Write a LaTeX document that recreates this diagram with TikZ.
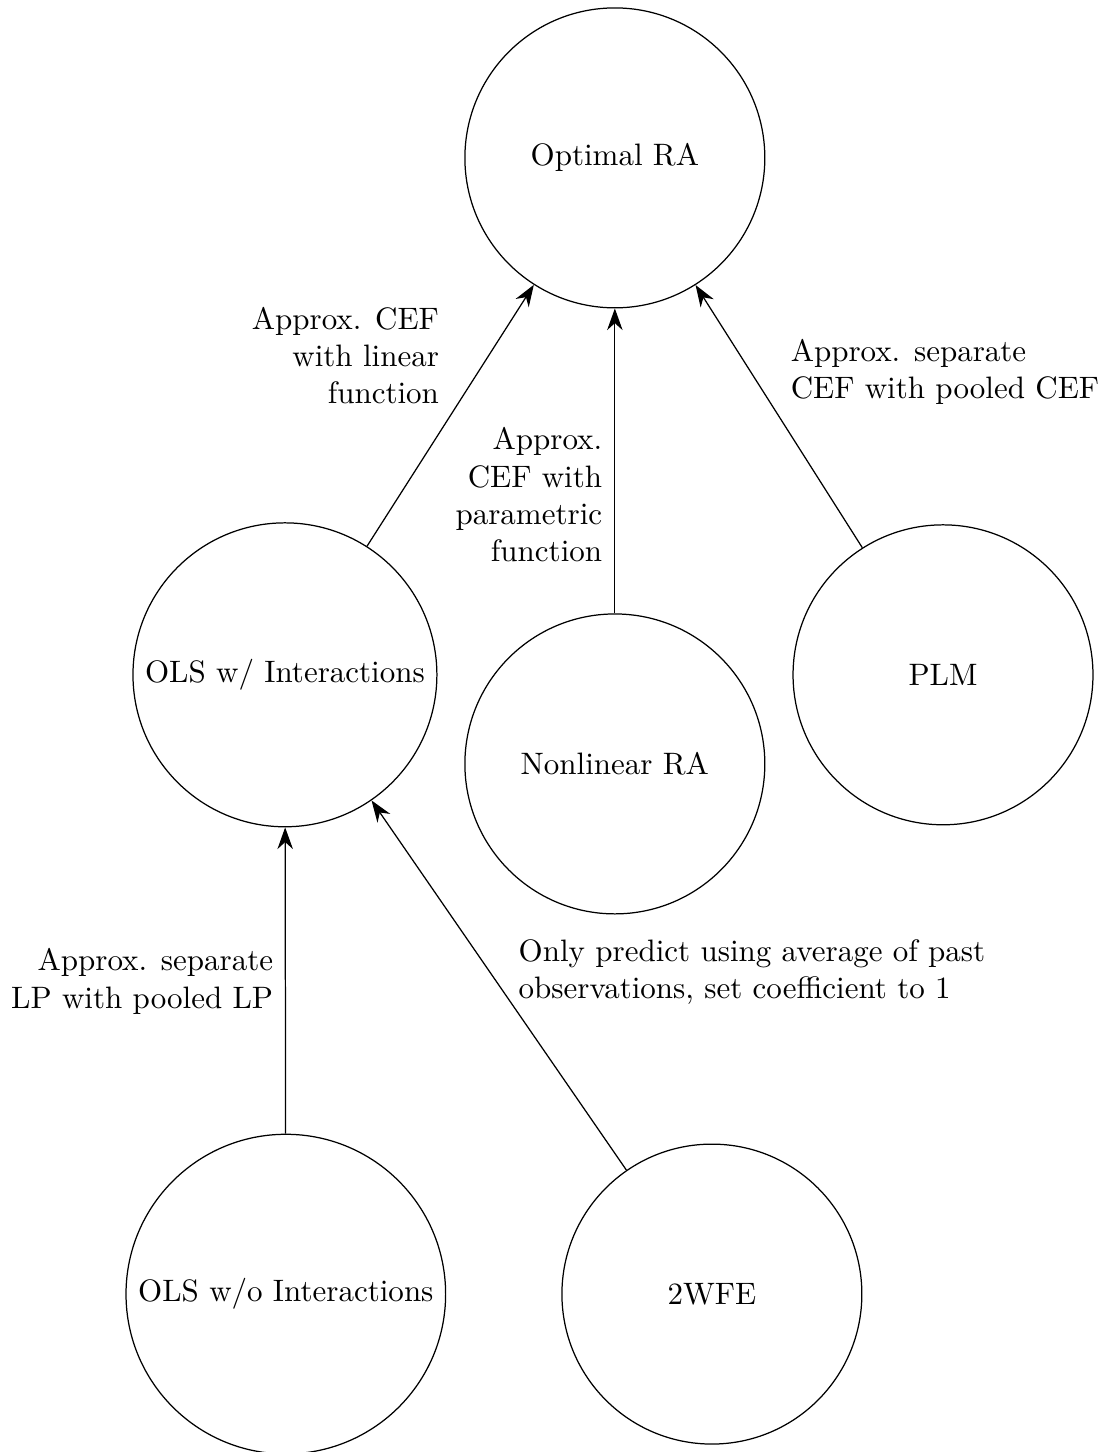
\documentclass[tikz,border=0pt]{standalone}
\usepackage{tikz}
\usetikzlibrary{arrows.meta}

\begin{document}
\begin{tikzpicture}[
  est/.style={draw, circle, minimum size=3.4cm, inner sep=3.33pt},
  arr/.style={-{Stealth[length=7pt,width=5pt]}}
]
  \useasboundingbox (0,0) rectangle (12.52,16.46);

  % --- estimators (circles) ---
  \node[est] (opt)    at (6.97,14.67) {Optimal RA};
  \node[est] (olsw)   at (3.23,8.81)  {OLS w/ Interactions};
  \node[est] (nonlin) at (6.97,7.80)  {Nonlinear RA};
  \node[est] (plm)    at (10.69,8.81) {PLM};
  \node[est] (olswo)  at (3.24,1.79)  {OLS w/o Interactions};
  \node[est] (twfe)   at (8.07,1.79)  {2WFE};

  % --- approximation arrows ---
  \draw[arr] (olsw)   -- (opt);
  \draw[arr] (nonlin) -- (opt);
  \draw[arr] (plm)    -- (opt);
  \draw[arr] (olswo)  -- (olsw);
  \draw[arr] (twfe)   -- (olsw);

  % --- labels ---
  \node[align=right, anchor=east] (lin)   at (5.10,12.43)  {Approx. CEF\\with linear\\function};
  \node[align=right, anchor=east] (par)   at (6.95,10.85)  {Approx.\\CEF with\\parametric\\function};
  \node[align=left,  anchor=west] (pool)  at (8.84,12.245) {Approx. separate\\CEF with pooled CEF};
  \node[align=right, anchor=east] (lp)    at (3.22,5.334)  {Approx. separate\\LP with pooled LP};
  \node[align=left,  anchor=west] (past)  at (5.756,5.44)  {Only predict using average of past\\observations, set coefficient to 1};
\end{tikzpicture}
\end{document}
